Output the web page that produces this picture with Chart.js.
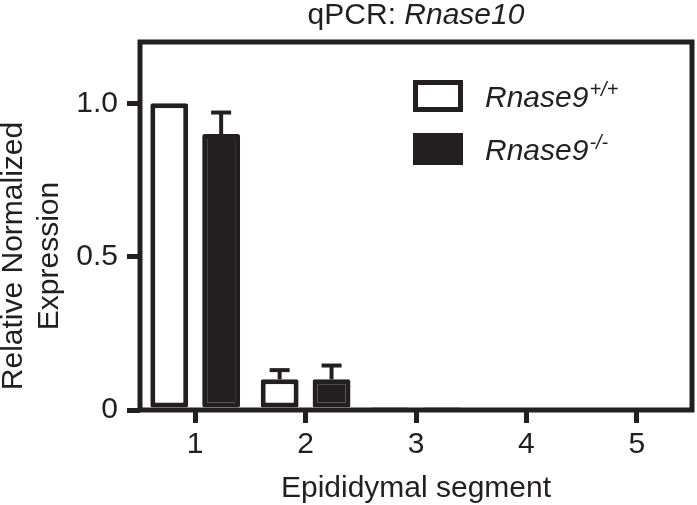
<!DOCTYPE html>
<html>
<head>
<meta charset="utf-8">
<script src="https://cdn.jsdelivr.net/npm/chart.js@4"></script>
<style>
  html, body { margin: 0; padding: 0; background: #fff; }
  #wrap { width: 697px; height: 505px; }
</style>
</head>
<body>
<div id="wrap"><canvas id="chart" width="697" height="505"></canvas></div>
<script>
const segments = ['1', '2', '3', '4', '5'];
const wildType = [1.0, 0.10, 0.004, 0, 0];
const wildTypeErr = [0, 0.03, 0, 0, 0];
const knockout = [0.90, 0.10, 0.004, 0, 0];
const knockoutErr = [0.07, 0.045, 0, 0, 0];
const yTicks = [0, 0.5, 1.0];

const FONT = '"Liberation Sans", Arial, Helvetica, sans-serif';
const INK = '#231f20';

// frame, error bars, titles and legend drawn on top
const extras = {
    id: 'extras',
    afterDatasetsDraw(chart) {
        const ctx = chart.ctx;
        const y = chart.scales.y;
        ctx.save();
        ctx.strokeStyle = INK;
        ctx.fillStyle = INK;
        [[0, wildTypeErr], [1, knockoutErr]].forEach(([di, errs]) => {
            const meta = chart.getDatasetMeta(di);
            const vals = chart.data.datasets[di].data;
            meta.data.forEach((bar, i) => {
                if (!errs[i]) return;
                const top = y.getPixelForValue(vals[i] + errs[i]);
                const base = y.getPixelForValue(vals[i]);
                ctx.lineWidth = 4;
                ctx.beginPath();
                ctx.moveTo(bar.x, base);
                ctx.lineTo(bar.x, top);
                ctx.stroke();
                ctx.beginPath();
                ctx.moveTo(bar.x - 10, top);
                ctx.lineTo(bar.x + 10, top);
                ctx.stroke();
            });
        });
        ctx.restore();
    },
    afterDraw(chart) {
        const ctx = chart.ctx;
        const a = chart.chartArea;
        const cx = (a.left + a.right) / 2;
        ctx.save();
        ctx.strokeStyle = INK;
        ctx.fillStyle = INK;
        ctx.lineWidth = 5;
        ctx.strokeRect(a.left, a.top, a.right - a.left, a.bottom - a.top);

        // title, centred over the plot
        ctx.textBaseline = 'alphabetic';
        ctx.textAlign = 'left';
        ctx.font = '30px ' + FONT;
        const w1 = ctx.measureText('qPCR: ').width;
        ctx.font = 'italic 30px ' + FONT;
        const w2 = ctx.measureText('Rnase10').width;
        let x = cx - (w1 + w2) / 2;
        ctx.font = '30px ' + FONT;
        ctx.fillText('qPCR: ', x, 24);
        ctx.font = 'italic 30px ' + FONT;
        ctx.fillText('Rnase10', x + w1, 24);

        // x title
        ctx.font = '30px ' + FONT;
        ctx.textAlign = 'center';
        ctx.fillText('Epididymal segment', cx, 497);

        // y title
        ctx.save();
        ctx.translate(0, 256);
        ctx.rotate(-Math.PI / 2);
        ctx.fillText('Relative Normalized', 0, 22);
        ctx.fillText('Expression', 0, 58);
        ctx.restore();

        // legend
        ctx.lineWidth = 5;
        ctx.strokeRect(415.5, 82.5, 45, 27);
        ctx.fillRect(413, 133, 50, 32);
        ctx.textAlign = 'left';
        [['+/+', 107], ['-/-', 160]].forEach(([sup, by]) => {
            ctx.font = 'italic 30px ' + FONT;
            ctx.fillText('Rnase9', 485, by);
            const w = ctx.measureText('Rnase9').width;
            ctx.font = 'italic 20px ' + FONT;
            ctx.fillText(sup, 485 + w + 1, by - 11);
        });
        ctx.restore();
    }
};

const tickFont = { family: FONT, size: 30 };

new Chart(document.getElementById('chart'), {
    type: 'bar',
    data: {
        labels: segments,
        datasets: [
            { label: 'Rnase9+/+', data: wildType, backgroundColor: '#ffffff', borderColor: INK, borderWidth: 5, borderRadius: 2, borderSkipped: false },
            { label: 'Rnase9-/-', data: knockout, backgroundColor: INK, borderColor: INK, borderWidth: 5, borderRadius: 2, borderSkipped: false }
        ]
    },
    options: {
        responsive: false,
        animation: false,
        devicePixelRatio: 1,
        layout: { padding: { top: 42, right: 5, left: 0, bottom: 0 } },
        datasets: { bar: { categoryPercentage: 0.94, barPercentage: 0.73 } },
        plugins: { legend: { display: false }, tooltip: { enabled: false } },
        scales: {
            x: {
                afterFit: s => { s.height = 95; },
                grid: { offset: false, drawOnChartArea: false, tickLength: 13, lineWidth: 5, color: INK },
                border: { display: false },
                ticks: { color: INK, font: tickFont, padding: 4, maxRotation: 0 }
            },
            y: {
                min: 0,
                max: 1.2,
                afterFit: s => { s.width = 140; },
                afterBuildTicks: s => { s.ticks = yTicks.map(v => ({ value: v })); },
                grid: { drawOnChartArea: false, tickLength: 13, lineWidth: 5, color: INK },
                border: { display: false },
                ticks: { color: INK, font: tickFont, padding: 9, callback: v => v === 0 ? '0' : v.toFixed(1) }
            }
        }
    },
    plugins: [extras]
});
</script>
</body>
</html>
